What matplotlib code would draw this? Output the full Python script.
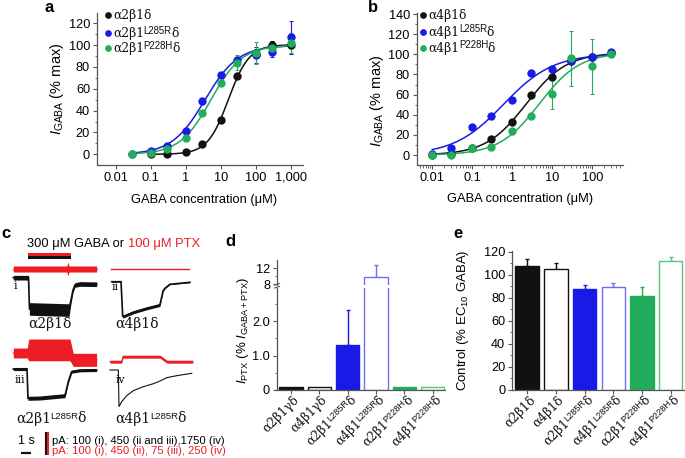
import numpy as np
import matplotlib
matplotlib.use('Agg')
import matplotlib.pyplot as plt
from matplotlib.transforms import IdentityTransform
from matplotlib.ticker import FixedLocator, FixedFormatter, MultipleLocator, LogLocator, NullFormatter

plt.rcParams['font.family'] = ['Liberation Sans', 'DejaVu Sans']
plt.rcParams['mathtext.fontset'] = 'custom'
plt.rcParams['mathtext.rm'] = 'Liberation Sans'
plt.rcParams['mathtext.it'] = 'Liberation Sans:italic'
plt.rcParams['mathtext.sf'] = 'Liberation Sans'
plt.rcParams['font.size'] = 9.2

BLACK = '#111111'
BLUE = '#1a1ae6'
GREEN = '#22ad5c'
RED = '#ee1c24'
LBLUE = '#6e6ef0'
LGREEN = '#55c583'
SPINE = '#555555'
SERIF = 'DejaVu Serif'
H = 458

# receptor names: (base, mutation tag) -> drawn as base + small raised tag + δ
# ---- panel a: alpha2 receptors, concentration-response ----
a_wt_x = [0.1, 0.3, 1, 3, 10, 30, 100, 300, 1000]
a_wt_y = [0, 0, 2, 9, 31, 72, 92, 100, 100]
a_wt_e = [0, 0, 0, 1, 1, 2, 4, 4, 2]
a_lr_x = [0.03, 0.1, 0.3, 1, 3, 10, 30, 100, 300, 1000]
a_lr_y = [0.5, 3, 8, 21, 49, 73, 86, 91, 94, 107]
a_lr_e = [0, 1, 1, 1, 2, 2, 3, 7, 5, 15]
a_ph_x = [0.03, 0.1, 0.3, 1, 3, 10, 30, 100, 300, 1000]
a_ph_y = [0, 1, 5, 15, 38, 65, 84, 93, 97, 102]
a_ph_e = [0, 0, 1, 1, 2, 2, 7, 10, 5, 9]
a_labels = [('α2β1', ''), ('α2β1', 'L285R'), ('α2β1', 'P228H')]

# ---- panel b: alpha4 receptors ----
b_x = [0.01, 0.03, 0.1, 0.3, 1, 3, 10, 30, 100, 300]
b_wt_y = [0, 1, 7, 15.5, 33, 59.6, 77, 93, 97, 101]
b_wt_e = [0, 0, 0, 1, 2, 2, 3, 3, 2, 3]
b_lr_y = [1, 7, 28, 38.7, 55, 81, 85, 93, 97, 102]
b_lr_e = [0, 1, 1, 1, 2, 2, 1, 2, 2, 2]
b_ph_y = [0, 0.5, 6.6, 8, 24, 38.7, 61, 96, 88, 100]
b_ph_e = [0, 0, 1, 1, 3, 2, 15, 27, 27, 3]
b_labels = [('α4β1', ''), ('α4β1', 'L285R'), ('α4β1', 'P228H')]

# ---- panel c: current traces (time in s, current in pA) ----
tr_i_t = [0, 1.42, 1.51, 5.21, 5.39, 5.58, 5.77, 6.23, 7.79]
tr_i_blk = [0, 0, -134, -139, -96, -53, -31, -27, -28]
tr_i_blk_nz = [10, 10, 27, 27, 15, 10, 10, 10, 10]
tr_i_red_t = [0, 5.0, 5.1, 5.2, 7.79]
tr_i_red = [0, 0, 0, 0, 0]
tr_i_red_nz = [13, 13, 30, 13, 13]

tr_ii_t = [0, 0.87, 1.03, 2.02, 3.27, 4.5, 4.8, 4.97, 5.44, 7.31]
tr_ii_blk = [0, 0, -676, -591, -514, -450, -180, -127, -50, -12]
tr_ii_blk_nz = [8, 8, 29, 29, 29, 29, 15, 10, 8, 8]
tr_ii_red_t = [0, 7.32]
tr_ii_red = [0, 0]

tr_iii_t = [0, 1.28, 1.37, 2.49, 4.83, 5.14, 5.45, 6.23, 7.79]
tr_iii_blk = [0, 0, -566, -560, -515, -245, -52, -25, -19]
tr_iii_blk_nz = [30, 30, 39, 39, 39, 30, 30, 30, 30]
tr_iii_red_t = [0, 1.3, 1.45, 5.3, 5.6, 7.79]
tr_iii_red = [0, 0, 10, 10, -22, -22]
tr_iii_red_nz = [16, 16, 35, 35, 21, 21]

tr_iv_t = [0, 0.78, 0.84, 1.09, 1.56, 2.18, 3.11, 4.05, 4.67, 5.3, 6.23, 7.64]
tr_iv_blk = [0, 0, -2757, -2381, -1930, -1555, -1254, -1029, -826, -578, -428, -248]
tr_iv_red_t = [0, 1.09, 1.21, 4.67, 5.33, 7.73]
tr_iv_red = [0, 0, 54, 54, 0, 0]
tr_iv_red_nz = [16, 16, 16, 16, 16, 16]

trace_names = [('α2β1', ''), ('α4β1', ''), ('α2β1', 'L285R'), ('α4β1', 'L285R')]

# scale bars (pA) used for each trace
scale_blk = {'i': 100, 'ii': 450, 'iii': 450, 'iv': 1750}
scale_red = {'i': 100, 'ii': 450, 'iii': 75, 'iv': 250}

# ---- panel d: PTX-sensitive current ----
bar_labels_d = [('α2β1γ', ''), ('α4β1γ', ''), ('α2β1', 'L285R'), ('α4β1', 'L285R'),
                ('α2β1', 'P228H'), ('α4β1', 'P228H')]
d_vals = [0.09, 0.09, 1.32, 9.7, 0.09, 0.09]
d_err = [0, 0, 1.0, 3.1, 0, 0]

# ---- panel e: control ----
bar_labels_e = [('α2β1', ''), ('α4β1', ''), ('α2β1', 'L285R'), ('α4β1', 'L285R'),
                ('α2β1', 'P228H'), ('α4β1', 'P228H')]
e_vals = [107.5, 105.2, 87.6, 89.3, 81.5, 112.1]
e_err = [6.5, 4.7, 3.2, 3.2, 8.1, 3.5]

bar_colors = [BLACK, BLACK, BLUE, LBLUE, GREEN, LGREEN]
bar_filled = [True, False, True, False, True, False]


def hill_fit(x, y):
    # least-squares Hill fit (bottom 0) by grid search
    lx = np.log10(np.asarray(x, float))[None, None, :]
    y = np.asarray(y, float)[None, None, :]
    le = np.arange(-2.5, 3.0, 0.01)[:, None, None]
    n = np.arange(0.3, 3.0, 0.02)[None, :, None]
    f = 1.0 / (1.0 + 10 ** ((le - lx) * n))
    top = (y * f).sum(-1, keepdims=True) / (f * f).sum(-1, keepdims=True)
    err = ((y - top * f) ** 2).sum(-1)
    i, j = np.unravel_index(np.argmin(err), err.shape)
    return le[i, 0, 0], n[0, j, 0], top[i, j, 0]


def hill_curve(x, params):
    le, n, top = params
    xs = np.logspace(np.log10(min(x)), np.log10(max(x)), 200)
    return xs, top / (1.0 + 10 ** ((le - np.log10(xs)) * n))


def px_axes(l, t, r, b):
    return fig.add_axes([l / 685, (H - b) / H, (r - l) / 685, (b - t) / H])


def style_axes(ax):
    for s in ['top', 'right']:
        ax.spines[s].set_visible(False)
    for s in ['left', 'bottom']:
        ax.spines[s].set_color(SPINE)
        ax.spines[s].set_linewidth(0.9)
    ax.tick_params(which='major', direction='out', length=3, width=0.8, color=SPINE, pad=2)
    ax.tick_params(which='minor', direction='out', length=1.8, width=0.6, color=SPINE)


fig = plt.figure(figsize=(6.85, 4.58), dpi=100)
canvas = fig.add_axes([0, 0, 1, 1])
canvas.set_xlim(0, 685)
canvas.set_ylim(H, 0)
canvas.axis('off')
canvas.patch.set_visible(False)
canvas.set_zorder(5)
renderer = fig.canvas.get_renderer()


def name_text(x, y, name, size, tag_size, rise, anchor='left', angle=0.0, color=BLACK):
    """Draw base + small raised sans tag + δ; (x, y) is the baseline anchor in display px."""
    base, tag = name
    if tag:
        parts = [(base, size, SERIF, 0.0), (tag, tag_size, 'Liberation Sans', rise),
                 ('δ', size, SERIF, 0.0)]
    else:
        parts = [(base + 'δ', size, SERIF, 0.0)]
    arts, widths = [], []
    for s, fs, fam, r in parts:
        t = fig.text(0, 0, s, fontsize=fs, family=fam, color=color, ha='left', va='baseline',
                     transform=IdentityTransform(), rotation_mode='anchor')
        widths.append(t.get_window_extent(renderer).width - 0.8)
        arts.append(t)
    total = sum(widths)
    a = np.deg2rad(angle)
    u = np.array([np.cos(a), np.sin(a)])
    v = np.array([-np.sin(a), np.cos(a)])
    shift = {'left': 0.0, 'center': total / 2, 'right': total}[anchor]
    p = np.array([x, y]) - shift * u
    for t, w, (s, fs, fam, r) in zip(arts, widths, parts):
        q = p + r * 100 / 72 * v
        t.set_position((q[0], q[1]))
        t.set_rotation(angle)
        p = p + w * u
    return arts


# ---------- panel a / b ----------
def dose_panel(ax, series, labels, xticks, xticklabels, leg_x, leg_y):
    for x, y, e, c in series:
        xs, ys = hill_curve(x, hill_fit(x, y))
        ax.plot(xs, ys, color=c, lw=1.1, zorder=2)
        ax.errorbar(x, y, yerr=e, fmt='o', color=c, ms=5, elinewidth=0.8, capsize=1.5,
                    capthick=0.8, zorder=3)
    ax.set_xscale('log')
    ax.xaxis.set_major_locator(FixedLocator(xticks))
    ax.xaxis.set_major_formatter(FixedFormatter(xticklabels))
    ax.xaxis.set_minor_locator(LogLocator(base=10, subs=np.arange(2, 10)))
    ax.xaxis.set_minor_formatter(NullFormatter())
    ax.yaxis.set_minor_locator(MultipleLocator(10))
    style_axes(ax)
    # legend rows: small dot + serif label
    for (x, y, e, c), lab, yy in zip(series, labels, leg_y):
        canvas.plot([leg_x], [yy], 'o', ms=3.8, color=c)
        name_text(leg_x + 5.5, H - (yy + 4.0), lab, 8.8, 6.9, 2.4)
    ax.set_xlabel('GABA concentration (μM)', fontsize=9.3, va='center')
    ax.set_ylabel(r'$I_{\mathrm{GABA}}$ (% max)', fontsize=10.5, va='center')


ax_a = px_axes(97, 13, 303, 165)
dose_panel(ax_a, [(a_wt_x, a_wt_y, a_wt_e, BLACK), (a_lr_x, a_lr_y, a_lr_e, BLUE),
                  (a_ph_x, a_ph_y, a_ph_e, GREEN)], a_labels,
           [0.01, 0.1, 1, 10, 100, 1000], ['0.01', '0.1', '1', '10', '100', '1,000'],
           108, [15, 33, 48.3])
ax_a.set_xlim(10 ** -2.534, 10 ** 3.351)
ax_a.set_ylim(-9.8, 129.4)
ax_a.set_yticks(range(0, 121, 20))
ax_a.xaxis.set_label_coords((204.5 - 97) / 206, (165 - 200) / 152)
ax_a.yaxis.set_label_coords((57 - 97) / 206, 0.5)

ax_b = px_axes(416.7, 13, 623, 165)
dose_panel(ax_b, [(b_x, b_wt_y, b_wt_e, BLACK), (b_x, b_lr_y, b_lr_e, BLUE),
                  (b_x, b_ph_y, b_ph_e, GREEN)], b_labels,
           [0.01, 0.1, 1, 10, 100], ['0.01', '0.1', '1', '10', '100'],
           423.3, [15, 31.7, 47.7])
ax_b.set_xlim(10 ** -2.39, 10 ** 2.77)
ax_b.set_ylim(-9.9, 141)
ax_b.set_yticks(range(0, 141, 20))
ax_b.xaxis.set_label_coords((519.7 - 416.7) / 206.3, (165 - 199.3) / 152)
ax_b.yaxis.set_label_coords((377 - 416.7) / 206.3, 0.42)

# ---------- panel c ----------
S = 10.7    # px per second
V = 23.3    # px for one scale-bar step


def trace(x0, y0, t, cur, scale, color, nz=None, lw=1.2):
    xs = x0 + np.asarray(t) * S
    ys = y0 - np.asarray(cur, float) / scale * V
    canvas.plot(xs, ys, color=color, lw=lw, solid_joinstyle='miter')
    if nz is not None:
        d = np.asarray(nz, float) / scale * V
        canvas.fill_between(xs, ys - d, ys + d, color=color, lw=0)


trace(13.3, 269, tr_i_red_t, tr_i_red, scale_red['i'], RED, tr_i_red_nz, lw=0.8)
trace(13.3, 277.7, tr_i_t, tr_i_blk, scale_blk['i'], BLACK, tr_i_blk_nz)
trace(111, 269.3, tr_ii_red_t, tr_ii_red, scale_red['ii'], RED, lw=1.0)
trace(111.7, 281.7, tr_ii_t, tr_ii_blk, scale_blk['ii'], BLACK, tr_ii_blk_nz)
trace(13.3, 353, tr_iii_red_t, tr_iii_red, scale_red['iii'], RED, tr_iii_red_nz, lw=0.8)
trace(13.3, 369, tr_iii_t, tr_iii_blk, scale_blk['iii'], BLACK, tr_iii_blk_nz)
trace(110, 361.7, tr_iv_red_t, tr_iv_red, scale_red['iv'], RED, tr_iv_red_nz, lw=0.8)
trace(110, 370, tr_iv_t, tr_iv_blk, scale_blk['iv'], BLACK, lw=0.8)

# drug application bar
canvas.add_patch(plt.Rectangle((28.3, 252.7), 42.7, 3.0, color=RED, lw=0))
canvas.add_patch(plt.Rectangle((28.3, 255.7), 42.7, 3.4, color=BLACK, lw=0))
t1 = canvas.text(27.5, 243.5, '300 μM GABA or ', ha='left', va='center', fontsize=9.3)
w = t1.get_window_extent(renderer).width
canvas.text(27.5 + w, 243.5, '100 μM PTX', ha='left', va='center', fontsize=9.3, color=RED)

for x, y, s in [(14, 286, 'i'), (112, 286.5, 'ii'), (14.5, 380, 'iii'), (115.5, 380, 'iv')]:
    canvas.text(x, y, s, ha='left', va='center', fontsize=7.8, family=SERIF)
for (x, y), nm in zip([(50, 328), (136.7, 328), (50.5, 422.5), (150, 422.5)], trace_names):
    name_text(x, H - y, nm, 10.0, 6.8, 2.7, anchor='center')

# scale bars
canvas.plot([21.5, 31.5], [452.5, 452.5], color=BLACK, lw=1.6, solid_capstyle='butt')
canvas.text(26.5, 440.5, '1 s', ha='center', va='center', fontsize=9)
canvas.plot([46.5, 46.5], [431.7, 455], color=BLACK, lw=1.5, solid_capstyle='butt')
canvas.plot([48.3, 48.3], [431.7, 455], color=RED, lw=1.5, solid_capstyle='butt')
canvas.text(52.5, 440.5, 'pA: 100 (i), 450 (ii and iii),1750 (iv)', ha='left', va='center', fontsize=8.1)
canvas.text(52.5, 451, 'pA: 100 (i), 450 (ii), 75 (iii), 250 (iv)', ha='left', va='center',
            fontsize=8.1, color=RED)


# ---------- bar helpers ----------
def bars(ax, vals, err, bottom=0.0):
    xs = np.arange(len(vals))
    for i, v in enumerate(vals):
        c = bar_colors[i]
        face = c if bar_filled[i] else 'white'
        ax.bar(xs[i], v - bottom, bottom=bottom, width=0.82, color=face, edgecolor=c, lw=1.0, zorder=2)
        if err[i] > 0:
            ax.errorbar(xs[i], v, yerr=[[0], [err[i]]], fmt='none', ecolor=c, elinewidth=1.0,
                        capsize=1.2, capthick=1.0, zorder=1)


def bar_xlabels(ax, labels, size=8.8):
    ax.set_xticks(np.arange(len(labels)))
    ax.set_xticklabels([])
    a = np.deg2rad(45)
    asc = 0.72 * size * 100 / 72
    for i, nm in enumerate(labels):
        px, py = ax.transData.transform((i, ax.get_ylim()[0]))
        py -= 5.0
        ex, ey = px + asc * np.sin(a), py - asc * np.cos(a)
        name_text(ex + 2, ey, nm, size, 6.6, 2.3, anchor='right', angle=45)


# ---------- panel d ----------
ax_d2 = px_axes(277, 260, 445, 285)
ax_d1 = px_axes(277, 288, 445, 390)
bars(ax_d1, d_vals, d_err)
bars(ax_d2, d_vals, d_err, bottom=6.0)
ax_d1.set_ylim(0, 2.96)
ax_d2.set_ylim(7.75, 14.1)
for ax in (ax_d1, ax_d2):
    ax.set_xlim(-0.49, 5.43)
    style_axes(ax)
ax_d1.yaxis.set_major_locator(FixedLocator([0, 1, 2]))
ax_d1.yaxis.set_major_formatter(FixedFormatter(['0', '1.0', '2.0']))
ax_d1.yaxis.set_minor_locator(FixedLocator([0.5, 1.5, 2.5]))
ax_d2.yaxis.set_major_locator(FixedLocator([8, 12]))
ax_d2.yaxis.set_minor_locator(FixedLocator([10]))
ax_d2.spines['bottom'].set_visible(False)
ax_d2.set_xticks([])
bar_xlabels(ax_d1, bar_labels_d)
# axis break marks
for yy in (284.3, 287.2):
    canvas.plot([274.5, 279.5], [yy + 0.8, yy - 0.8], color=SPINE, lw=0.8)
canvas.text(243, 330, r'$I_{\mathrm{PTX}}$ (% $I_{\mathrm{GABA+PTX}}$)', rotation=90,
            ha='center', va='center', fontsize=9.5)

# ---------- panel e ----------
ax_e = px_axes(512.3, 251.2, 685, 390)
bars(ax_e, e_vals, e_err)
ax_e.set_ylim(0, 120.5)
ax_e.set_xlim(-0.52, 5.5)
ax_e.set_yticks(range(0, 121, 20))
ax_e.yaxis.set_minor_locator(MultipleLocator(10))
style_axes(ax_e)
bar_xlabels(ax_e, bar_labels_e)
ax_e.set_ylabel(r'Control (% EC$_{\mathrm{10}}$ GABA)', fontsize=9.5, va='center')
ax_e.yaxis.set_label_coords((463 - 512.3) / 172.7, 0.5)

# panel letters
for x, y, s in [(45, 8, 'a'), (368, 8, 'b'), (1, 234, 'c'), (225, 241, 'd'), (453, 234, 'e')]:
    canvas.text(x, y, s, ha='left', va='center', fontsize=12, fontweight='bold')

fig.savefig('out.png', dpi=100)
